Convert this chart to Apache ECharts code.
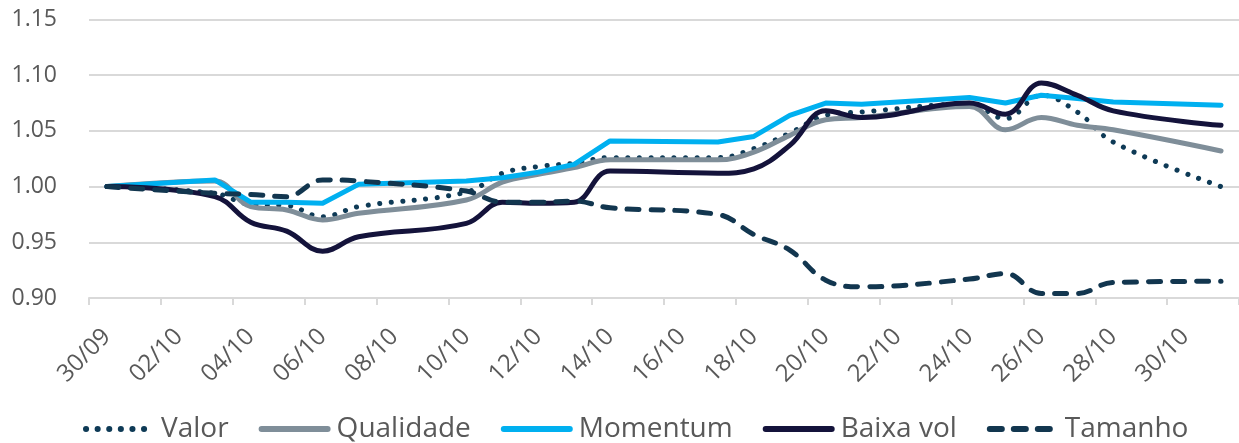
<!DOCTYPE html>
<html>
<head>
<meta charset="utf-8">
<script src="https://cdn.jsdelivr.net/npm/echarts@6/dist/echarts.min.js"></script>
<style>
  html, body { margin: 0; padding: 0; background: #ffffff; }
  #chart { width: 1239px; height: 443px; }
</style>
</head>
<body>
<div id="chart"></div>
<script>
// Daily calendar from 30/09 to 31/10; weekend days carry no quote (null).
const days = ['30/09','01/10','02/10','03/10','04/10','05/10','06/10','07/10','08/10','09/10',
  '10/10','11/10','12/10','13/10','14/10','15/10','16/10','17/10','18/10','19/10',
  '20/10','21/10','22/10','23/10','24/10','25/10','26/10','27/10','28/10','29/10',
  '30/10','31/10'];

const valor = [1.000, null, null, 0.994, 0.984, 0.983, 0.973, 0.982, null, null,
  0.995, 1.012, 1.018, 1.021, 1.026, null, null, 1.026, 1.034, 1.048,
  1.064, 1.067, null, null, 1.074, 1.061, 1.082, 1.067, 1.040, null,
  null, 1.000];

const qualidade = [1.000, null, null, 1.005, 0.982, 0.979, 0.970, 0.976, null, null,
  0.988, 1.004, 1.011, 1.017, 1.024, null, null, 1.024, 1.031, 1.046,
  1.060, 1.062, null, null, 1.072, 1.051, 1.062, 1.055, 1.051, null,
  null, 1.032];

const momentum = [1.000, null, null, 1.006, 0.986, 0.986, 0.985, 1.002, null, null,
  1.005, 1.008, 1.013, 1.020, 1.041, null, null, 1.040, 1.045, 1.064,
  1.075, 1.074, null, null, 1.080, 1.075, 1.082, 1.079, 1.076, null,
  null, 1.073];

const baixaVol = [1.000, null, null, 0.991, 0.968, 0.960, 0.942, 0.955, null, null,
  0.967, 0.986, 0.985, 0.986, 1.014, null, null, 1.012, 1.016, 1.037,
  1.068, 1.062, null, null, 1.075, 1.065, 1.093, 1.082, 1.068, null,
  null, 1.055];

const tamanho = [1.000, null, null, 0.994, 0.993, 0.991, 1.006, 1.005, null, null,
  0.996, 0.986, 0.986, 0.987, 0.981, null, null, 0.975, 0.957, 0.943,
  0.916, 0.910, null, null, 0.917, 0.922, 0.904, 0.904, 0.914, null,
  null, 0.915];

const yTicks = { min: 0.90, max: 1.15, step: 0.05 };

const FONT = '"Open Sans", "Noto Sans", sans-serif';
const TEXT = '#595959';
const GRID = '#d9d9d9';

function line(name, data, color, opts) {
  return Object.assign({
    name: name,
    type: 'line',
    data: data,
    connectNulls: true,
    symbol: 'none',
    smooth: 0.4,
    animation: false,
    lineStyle: { color: color, width: 5, cap: 'round', join: 'round' },
    itemStyle: { color: color }
  }, opts || {});
}

const chart = echarts.init(document.getElementById('chart'), null, { renderer: 'canvas' });
chart.setOption({
  backgroundColor: '#ffffff',
  animation: false,
  textStyle: { fontFamily: FONT },
  grid: { left: 89, right: 0, top: 19.5, bottom: 145, containLabel: false },
  xAxis: {
    type: 'category',
    data: days,
    boundaryGap: true,
    axisLine: { show: true, lineStyle: { color: GRID, width: 2 } },
    axisTick: { show: true, interval: 1, length: 7, lineStyle: { color: GRID, width: 2 } },
    axisLabel: {
      interval: 1, rotate: 45, margin: 35,
      color: TEXT, fontSize: 24, fontFamily: FONT
    },
    splitLine: { show: false }
  },
  yAxis: {
    type: 'value',
    min: yTicks.min, max: yTicks.max, interval: yTicks.step,
    axisLine: { show: false },
    axisTick: { show: false },
    axisLabel: {
      margin: 32, color: TEXT, fontSize: 23, fontFamily: FONT,
      formatter: v => v.toFixed(2)
    },
    splitLine: { show: true, lineStyle: { color: GRID, width: 2 } }
  },
  legend: {
    left: 83,
    top: 415,
    itemWidth: 66,
    itemHeight: 30,
    itemGap: 30,
    padding: 0,
    itemStyle: { opacity: 0 },
    lineStyle: { width: 6 },
    textStyle: { color: TEXT, fontSize: 28, fontFamily: FONT, padding: [0, 0, 0, 4] },
    data: ['Valor', 'Qualidade', 'Momentum', 'Baixa vol', 'Tamanho']
  },
  series: [
    line('Valor', valor, '#0e3a56', {
      lineStyle: { color: '#0e3a56', width: 5, type: [0.1, 11.5], cap: 'round', join: 'round' }
    }),
    line('Qualidade', qualidade, '#7f8e99'),
    line('Momentum', momentum, '#00b0f0', { smooth: false }),
    line('Baixa vol', baixaVol, '#14133b'),
    line('Tamanho', tamanho, '#12364f', {
      lineStyle: { color: '#12364f', width: 5, type: [12, 12], cap: 'round', join: 'round' }
    })
  ]
});
</script>
</body>
</html>
